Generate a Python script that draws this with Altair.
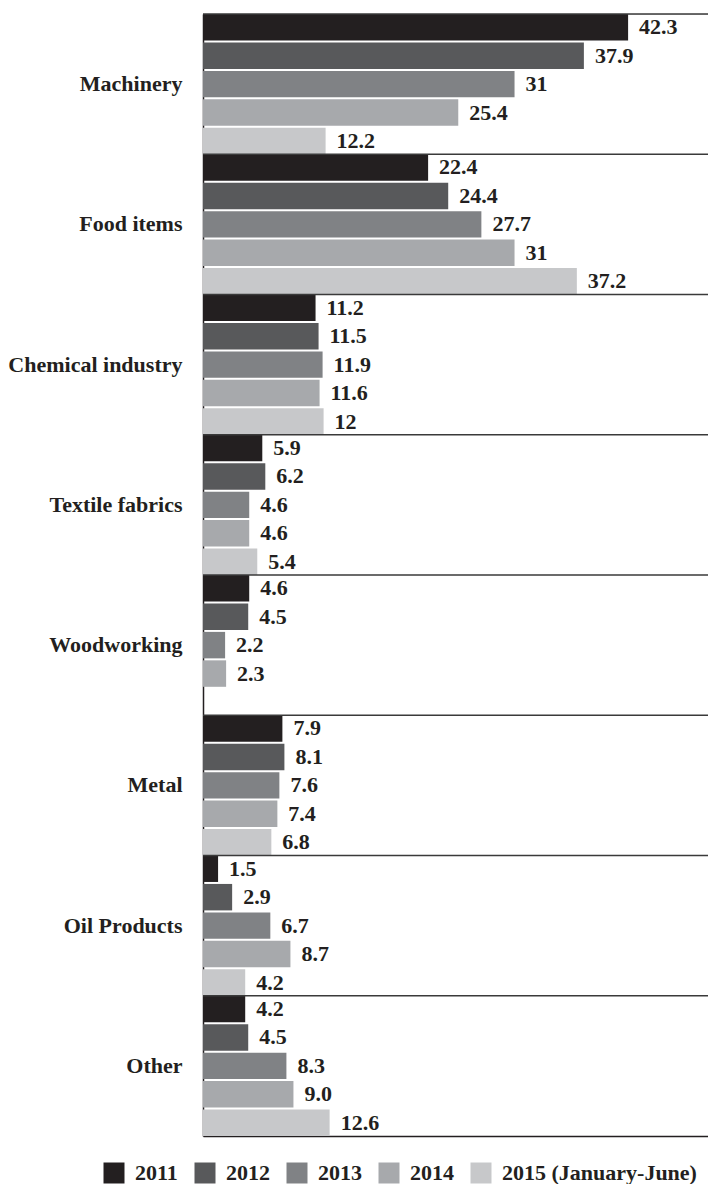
import altair as alt
import pandas as pd

categories = ["Machinery", "Food items", "Chemical industry", "Textile fabrics",
              "Woodworking", "Metal", "Oil Products", "Other"]
years = ["2011", "2012", "2013", "2014", "2015 (January-June)"]
colors = ["#231f20", "#58595b", "#808285", "#a7a9ac", "#c7c8ca"]

v2011 = [42.3, 22.4, 11.2, 5.9, 4.6, 7.9, 1.5, 4.2]
v2012 = [37.9, 24.4, 11.5, 6.2, 4.5, 8.1, 2.9, 4.5]
v2013 = [31.0, 27.7, 11.9, 4.6, 2.2, 7.6, 6.7, 8.3]
v2014 = [25.4, 31.0, 11.6, 4.6, 2.3, 7.4, 8.7, 9.0]
v2015 = [12.2, 37.2, 12.0, 5.4, None, 6.8, 4.2, 12.6]

l2011 = ["42.3", "22.4", "11.2", "5.9", "4.6", "7.9", "1.5", "4.2"]
l2012 = ["37.9", "24.4", "11.5", "6.2", "4.5", "8.1", "2.9", "4.5"]
l2013 = ["31", "27.7", "11.9", "4.6", "2.2", "7.6", "6.7", "8.3"]
l2014 = ["25.4", "31", "11.6", "4.6", "2.3", "7.4", "8.7", "9.0"]
l2015 = ["12.2", "37.2", "12", "5.4", None, "6.8", "4.2", "12.6"]

series_vals = [v2011, v2012, v2013, v2014, v2015]
series_labels = [l2011, l2012, l2013, l2014, l2015]

rows = []
for yi, (yr, vals, labs) in enumerate(zip(years, series_vals, series_labels)):
    for ci, cat in enumerate(categories):
        if vals[ci] is None:
            continue
        rows.append({"category": cat, "year": yr, "value": vals[ci], "label": labs[ci]})
df = pd.DataFrame(rows)

XMAX = 50.25
sep_df = pd.DataFrame({"category": categories, "x0": [0] * len(categories),
                       "x1": [XMAX] * len(categories)})

FONT = "Liberation Serif"
TXT = "#231f20"

y_enc = alt.Y("category:N", sort=categories,
              scale=alt.Scale(paddingInner=0, paddingOuter=0),
              axis=alt.Axis(title="", ticks=False, labelPadding=21,
                            labelFont=FONT, labelFontSize=22, labelFontWeight="bold",
                            labelColor=TXT, domainColor=TXT, domainWidth=1.5,
                            labelLimit=300))
yoff = alt.YOffset("year:N", sort=years,
                   scale=alt.Scale(paddingInner=0.07, paddingOuter=0))
x_enc = alt.X("value:Q", scale=alt.Scale(domain=[0, XMAX], nice=False, zero=True),
              axis=alt.Axis(title="", labels=False, ticks=False, grid=False,
                            domainColor=TXT, domainWidth=1.5))

bars = alt.Chart(df).mark_bar(opacity=1, strokeWidth=0).encode(
    y=y_enc,
    yOffset=yoff,
    x=x_enc,
    color=alt.Color("year:N", sort=years,
                    scale=alt.Scale(domain=years, range=colors),
                    title="",
                    legend=alt.Legend(orient="none", legendX=-100, legendY=1148,
                                      direction="horizontal", symbolType="square",
                                      symbolSize=441, symbolStrokeWidth=0,
                                      symbolOpacity=1,
                                      labelFont=FONT, labelFontSize=22,
                                      labelFontWeight="bold", labelColor=TXT,
                                      labelOffset=10, columnPadding=16,
                                      labelLimit=400, padding=0)),
)

texts = alt.Chart(df).mark_text(align="left", baseline="middle", dx=11,
                                font=FONT, fontSize=22, fontWeight="bold",
                                color=TXT).encode(
    y=alt.Y("category:N", sort=categories),
    yOffset=alt.YOffset("year:N", sort=years),
    x=alt.X("value:Q"),
    text="label:N",
)

seps = alt.Chart(sep_df).mark_rule(color="#3a3a3a", strokeWidth=1.5).encode(
    y=alt.Y("category:N", sort=categories, bandPosition=0),
    x=alt.X("x0:Q"),
    x2="x1:Q",
)

chart = alt.layer(bars, seps, texts).properties(
    width=505, height=1122,
    autosize=alt.AutoSizeParams(type="none"),
    padding={"left": 195, "top": 6, "right": 0, "bottom": 48},
).configure_view(strokeWidth=0).configure(background="white")

chart.save("out.html", embed_options={"renderer": "svg", "actions": False})
